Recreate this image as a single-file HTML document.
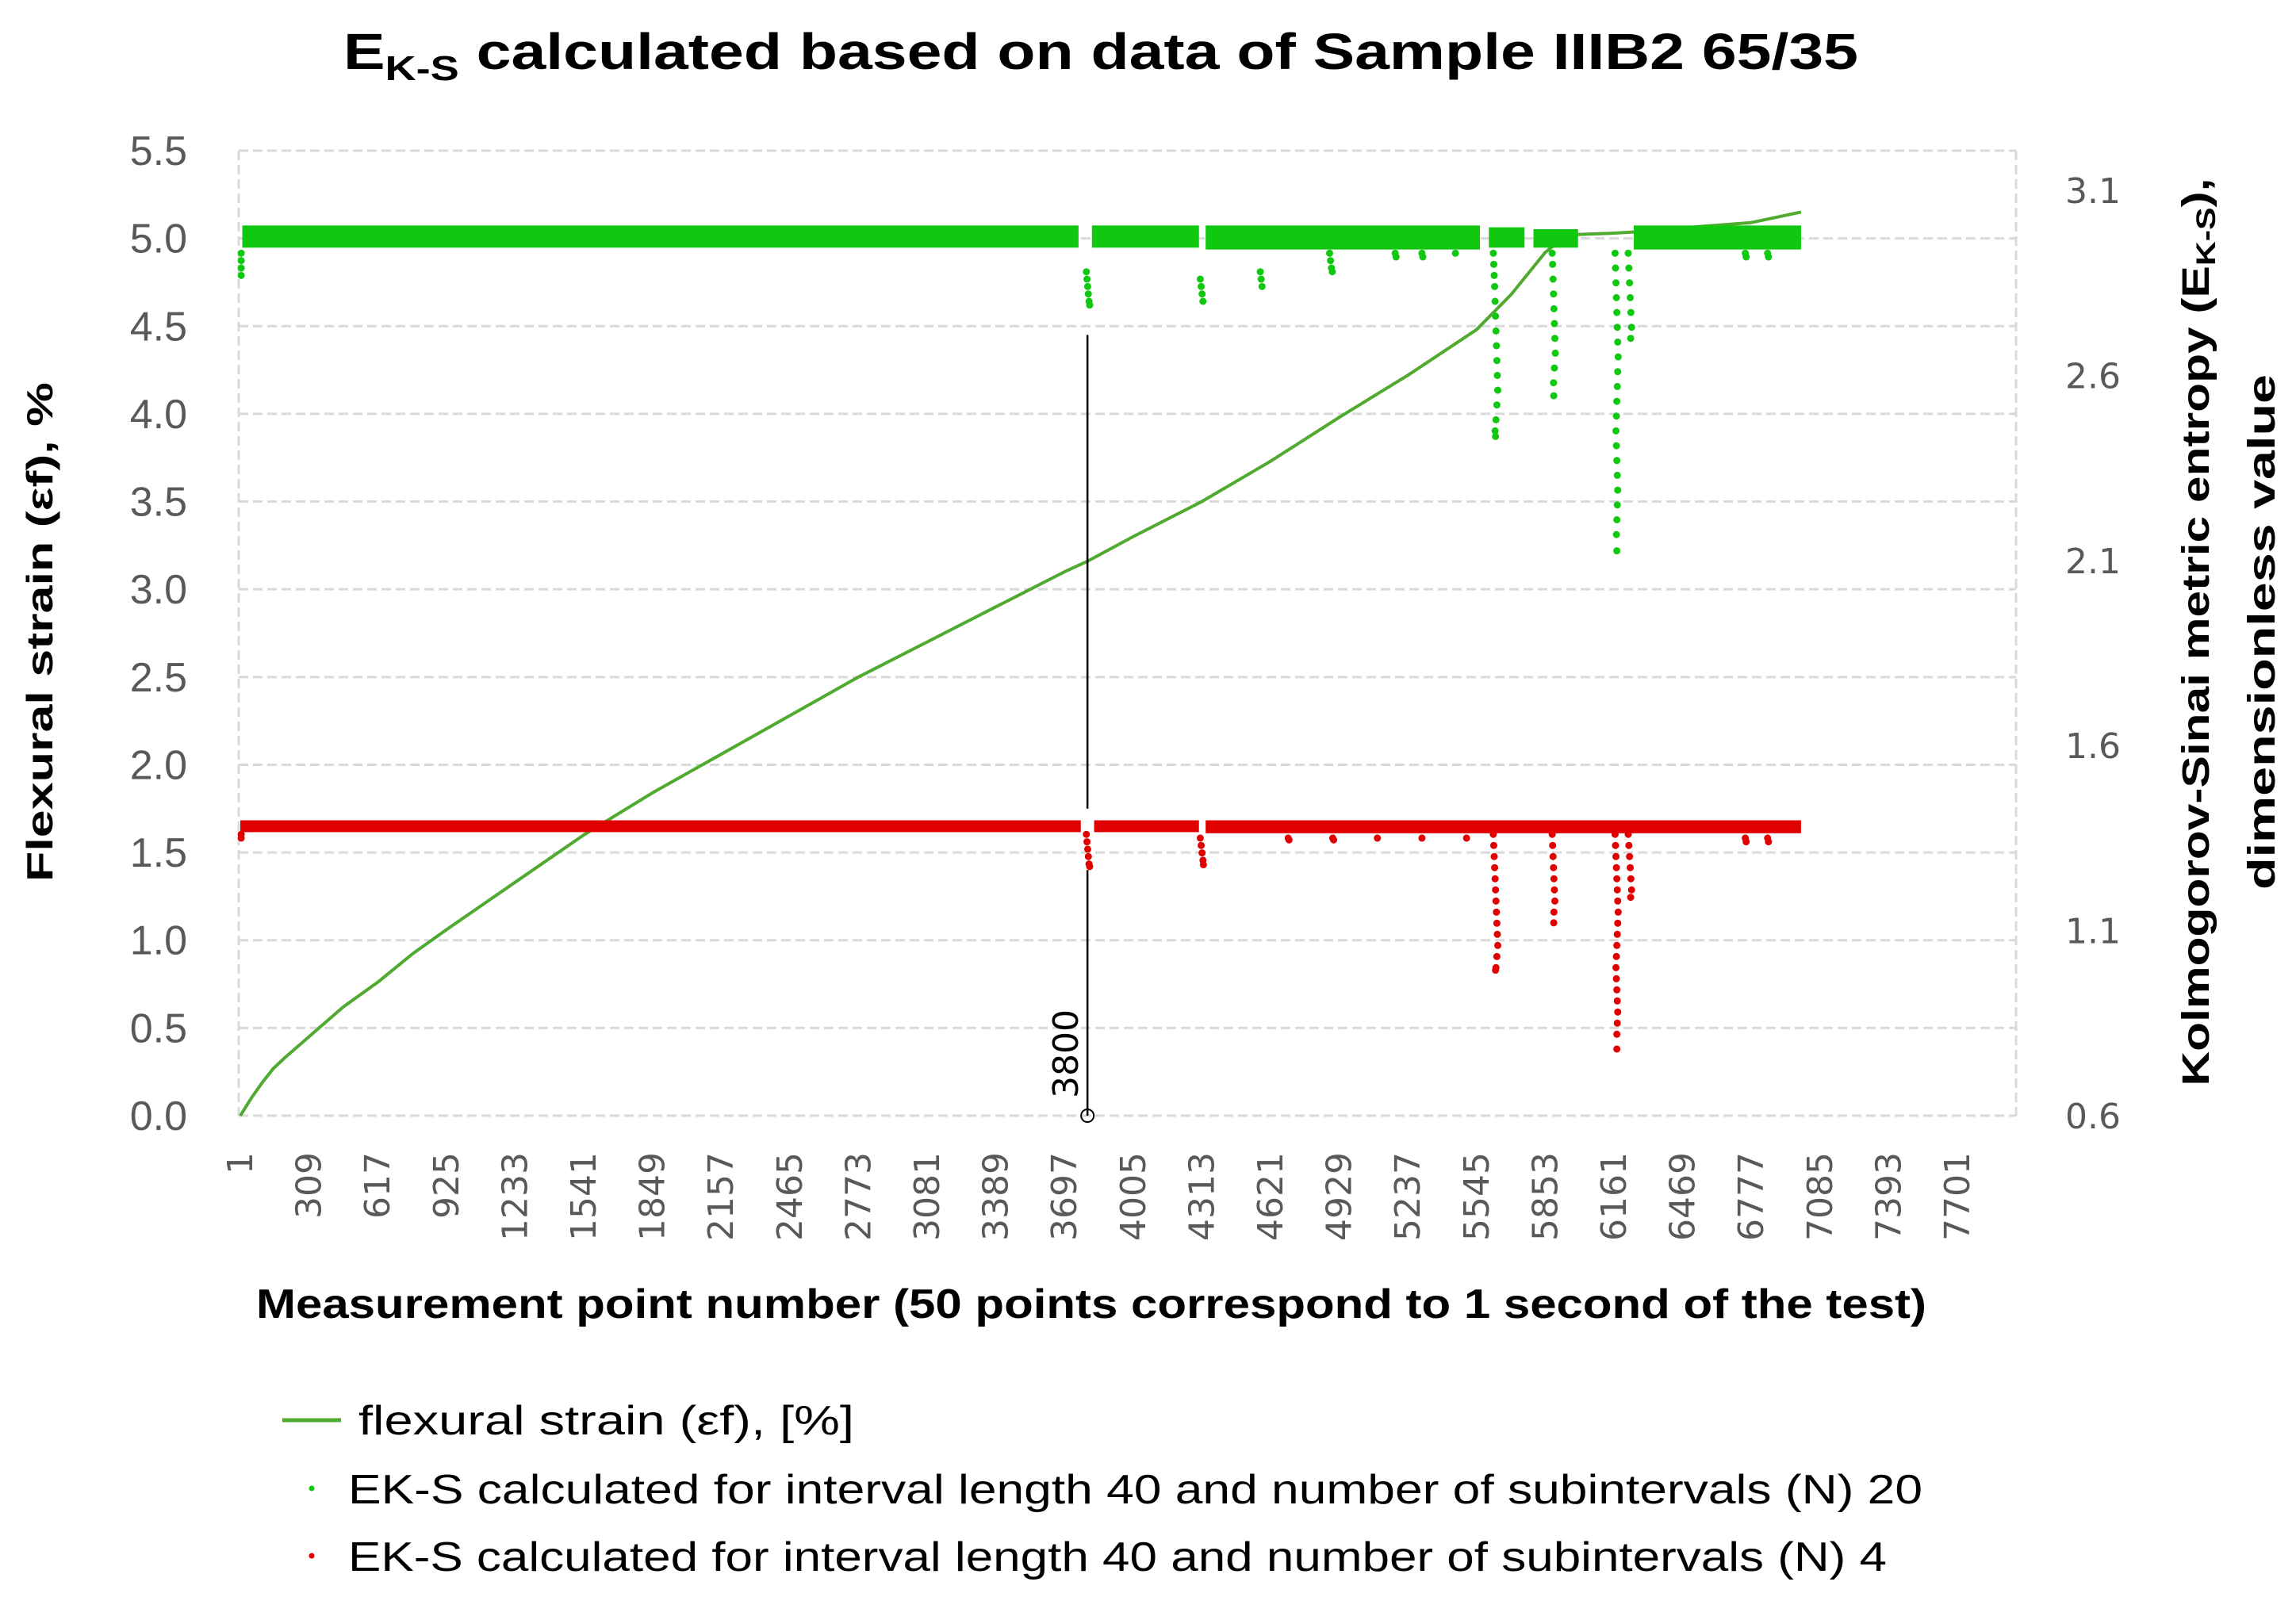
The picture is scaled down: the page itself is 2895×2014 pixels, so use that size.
<!DOCTYPE html>
<html><head><meta charset="utf-8">
<style>
html,body{margin:0;padding:0;background:#fff;}
svg{display:block;}
.tk{font-family:"DejaVu Sans",sans-serif;fill:#595959;}
.lt{font-family:"Liberation Sans",sans-serif;fill:#595959;}
.b{font-family:"Liberation Sans",sans-serif;font-weight:bold;fill:#000;}
.lg{font-family:"Liberation Sans",sans-serif;fill:#000;}
</style></head>
<body>
<svg id="chart" xmlns="http://www.w3.org/2000/svg" width="2895" height="2014" viewBox="0 0 2895 2014">
<text class="b" x="1388" y="87" text-anchor="middle" font-size="64" textLength="1910" lengthAdjust="spacingAndGlyphs">E<tspan font-size="44" dy="14">K-S</tspan><tspan dy="-14"> calculated based on data of Sample IIIB2 65/35</tspan></text>
<g id="grid"></g>
<g id="strain"></g>
<g id="green"></g>
<g id="red"></g>
<g id="marker"></g>
<g id="axes"></g>
<text class="b" font-size="46" text-anchor="middle" transform="translate(66,797) rotate(-90)" textLength="630" lengthAdjust="spacingAndGlyphs">Flexural strain (εf), %</text>
<text class="b" font-size="48" text-anchor="middle" transform="translate(2785,797) rotate(-90)" textLength="1145" lengthAdjust="spacingAndGlyphs">Kolmogorov-Sinai metric entropy (E<tspan font-size="34" dy="8">K-S</tspan><tspan dy="-8">),</tspan></text>
<text class="b" font-size="48" text-anchor="middle" transform="translate(2868,797) rotate(-90)" textLength="650" lengthAdjust="spacingAndGlyphs">dimensionless value</text>
<text class="b" font-size="52" x="1376" y="1662" text-anchor="middle" textLength="2106" lengthAdjust="spacingAndGlyphs">Measurement point number (50 points correspond to 1 second of the test)</text>
<g>
<line x1="356" y1="1791" x2="430" y2="1791" stroke="#4faa2f" stroke-width="5"/>
<text class="lg" font-size="52" x="452" y="1809" textLength="625" lengthAdjust="spacingAndGlyphs">flexural strain (εf),  [%]</text>
<circle cx="393" cy="1877" r="3.5" fill="#11c811"/>
<text class="lg" font-size="52" x="439" y="1896" textLength="1985" lengthAdjust="spacingAndGlyphs">EK-S calculated for interval length 40 and number of subintervals (N) 20</text>
<circle cx="393" cy="1962" r="3.5" fill="#e00000"/>
<text class="lg" font-size="52" x="439" y="1981" textLength="1940" lengthAdjust="spacingAndGlyphs">EK-S calculated for interval length 40 and number of subintervals (N) 4</text>
</g>
</svg>
<script>
const xTickLabels=[1,309,617,925,1233,1541,1849,2157,2465,2773,3081,3389,3697,4005,4313,4621,4929,5237,5545,5853,6161,6469,6777,7085,7393,7701];
const leftTicks=["0.0","0.5","1.0","1.5","2.0","2.5","3.0","3.5","4.0","4.5","5.0","5.5"];
const rightTicks=["0.6","1.1","1.6","2.1","2.6","3.1"];
const strainN=[1,50,100,150,200,309,463,617,771,925,1233,1541,1849,2157,2465,2773,3081,3389,3697,3800,4005,4313,4621,4929,5237,5545,5700,5853,5950,6161,6300,6469,6777,7000];
const strainV=[0,0.1,0.19,0.27,0.33,0.45,0.62,0.76,0.92,1.06,1.33,1.6,1.84,2.06,2.28,2.5,2.7,2.9,3.1,3.16,3.3,3.5,3.73,3.98,4.22,4.48,4.68,4.92,5.02,5.03,5.04,5.06,5.09,5.15];
const greenBandStart=[10,3820,4330,5600,5800,6250];
const greenBandEnd=[3760,4300,5560,5760,6000,7000];
const greenBandLow=[2.945,2.945,2.94,2.945,2.945,2.94];
const greenBandHigh=[3.005,3.005,3.005,3.0,2.995,3.005];
const greenDipN=[5,5,5,5,3795,3798,3801,3804,3807,3810,4306,4310,4314,4318,4575,4579,4583,4886,4890,4894,4898,5180,5184,5300,5304,5450,
5620,5622,5624,5626,5628,5630,5632,5634,5636,5638,5640,5636,5632,5628,5630,
5884,5886,5888,5890,5892,5894,5896,5898,5894,5890,5891,
6166,6168,6170,6172,6174,6176,6178,6180,6178,6176,6174,6172,6170,6172,6174,6176,6178,6176,6174,6172,6174,
6225,6228,6231,6234,6237,6240,6236,6750,6754,6850,6854];
const greenDipR=[2.93,2.91,2.89,2.87,2.88,2.86,2.84,2.82,2.80,2.79,2.86,2.84,2.82,2.80,2.88,2.86,2.84,2.93,2.91,2.89,2.88,2.93,2.92,2.93,2.92,2.93,
2.93,2.90,2.87,2.84,2.80,2.76,2.72,2.68,2.64,2.60,2.56,2.52,2.48,2.45,2.435,
2.93,2.90,2.86,2.82,2.78,2.74,2.70,2.66,2.62,2.58,2.545,
2.93,2.89,2.85,2.81,2.77,2.73,2.69,2.65,2.61,2.57,2.53,2.49,2.45,2.41,2.37,2.33,2.29,2.25,2.21,2.17,2.126,
2.93,2.89,2.85,2.81,2.77,2.73,2.70,2.93,2.92,2.93,2.92];
const redBandStart=[1,3830,4330];
const redBandEnd=[3770,4300,7000];
const redBandLow=[1.366,1.366,1.363];
const redBandHigh=[1.398,1.398,1.398];
const redDipN=[5,5,3795,3798,3801,3804,3807,3810,4306,4310,4314,4318,4320,4700,4704,4900,4904,5100,5300,5500,
5620,5622,5624,5626,5628,5630,5632,5634,5636,5638,5640,5636,5632,5630,
5884,5886,5888,5890,5892,5894,5896,5892,5891,
6166,6168,6170,6172,6174,6176,6178,6180,6178,6176,6174,6172,6170,6172,6174,6176,6178,6176,6174,6174,
6225,6228,6231,6234,6237,6240,6236,6750,6754,6850,6854];
const redDipR=[1.36,1.35,1.36,1.34,1.32,1.30,1.28,1.273,1.35,1.33,1.31,1.29,1.278,1.35,1.345,1.35,1.345,1.35,1.35,1.35,
1.36,1.33,1.30,1.27,1.24,1.21,1.18,1.15,1.12,1.09,1.06,1.03,1.00,0.993,
1.36,1.33,1.30,1.27,1.24,1.21,1.18,1.15,1.121,
1.36,1.33,1.30,1.27,1.24,1.21,1.18,1.15,1.12,1.09,1.06,1.03,1.00,0.97,0.94,0.91,0.88,0.85,0.82,0.78,
1.36,1.33,1.30,1.27,1.24,1.21,1.19,1.35,1.34,1.35,1.34];
const markerN=3800;

const NS="http://www.w3.org/2000/svg";
const PL=301,PR=2542,PT=190,PB=1407;
function xs(n){return 303+(n-1)*86.6/308;}
function yl(v){return PB-v*(PB-PT)/5.5;}
function yr(r){return PB-(r-0.6)*(PB-240)/2.5;}
function mk(tag,attrs,parent){const e=document.createElementNS(NS,tag);for(const k in attrs)e.setAttribute(k,attrs[k]);parent.appendChild(e);return e;}

const grid=document.getElementById('grid');
leftTicks.forEach((t,i)=>{
  const l=mk('line',{x1:PL,x2:PR,y1:yl(i*0.5),y2:yl(i*0.5),stroke:'#d9d9d9','stroke-width':3,'stroke-dasharray':'12 6'},grid);
  
  
});
[PL,PR].forEach(x=>{
  const l=mk('line',{x1:x,x2:x,y1:PT,y2:PB,stroke:'#d9d9d9','stroke-width':3,'stroke-dasharray':'12 6'},grid);
  
  
});

const axes=document.getElementById('axes');
leftTicks.forEach((t,i)=>{
  const e=mk('text',{x:236,y:yl(i*0.5)+18,'text-anchor':'end','font-size':52,class:'lt'},axes);
  e.textContent=t;
  
  
});
rightTicks.forEach((t,i)=>{
  const e=mk('text',{x:2604,y:yr(parseFloat(t))+16,'font-size':44,class:'tk'},axes);
  e.textContent=t;
  
  
});
xTickLabels.forEach(n=>{
  const x=xs(n)+15;
  const e=mk('text',{'text-anchor':'end','font-size':44,class:'tk',transform:`translate(${x},1453) rotate(-90)`},axes);
  e.textContent=String(n);
  
  
});

const sg=document.getElementById('strain');
const pts=strainN.map((n,i)=>xs(n).toFixed(1)+','+yl(strainV[i]).toFixed(1)).join(' ');
const pl=mk('polyline',{points:pts,fill:'none',stroke:'#4faa2f','stroke-width':4,'stroke-linejoin':'round'},sg);



function drawScatter(g,bs,be,blo,bhi,dn,dr,color,name){
  bs.forEach((s,i)=>{
    const r=mk('rect',{x:xs(s),y:yr(bhi[i]),width:xs(be[i])-xs(s),height:yr(blo[i])-yr(bhi[i]),fill:color},g);
    
    
  });
  dn.forEach((n,i)=>{
    const c=mk('circle',{cx:xs(n),cy:yr(dr[i]),r:4.5,fill:color},g);
    
    
  });
}
drawScatter(document.getElementById('green'),greenBandStart,greenBandEnd,greenBandLow,greenBandHigh,greenDipN,greenDipR,'#11c811','eks-n20');
drawScatter(document.getElementById('red'),redBandStart,redBandEnd,redBandLow,redBandHigh,redDipN,redDipR,'#e00000','eks-n4');

const mg=document.getElementById('marker');
const mx=xs(markerN);
let e=mk('line',{x1:mx,x2:mx,y1:yl(4.45),y2:yl(1.75),stroke:'#000','stroke-width':2.5},mg);


e=mk('line',{x1:mx,x2:mx,y1:yl(1.4),y2:yl(0),stroke:'#000','stroke-width':2.5},mg);


e=mk('circle',{cx:mx,cy:yl(0),r:8,fill:'none',stroke:'#000','stroke-width':2},mg);


e=mk('text',{'font-size':44,'font-family':'DejaVu Sans, sans-serif',fill:'#000',transform:`translate(${mx-12},1385) rotate(-90)`},mg);
e.textContent=String(markerN);


</script>
</body></html>
